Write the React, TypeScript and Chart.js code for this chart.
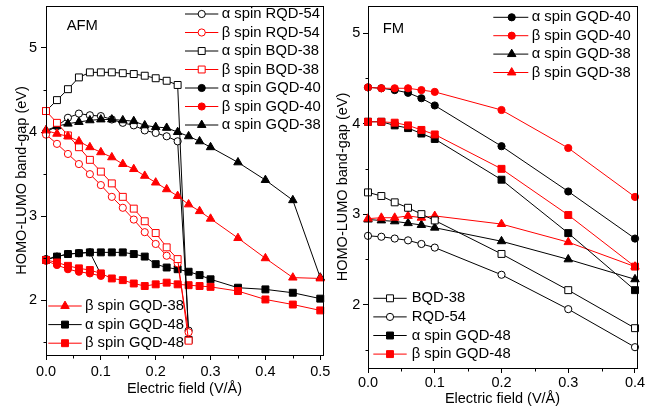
import React, { useEffect, useRef } from 'react';
import { Chart, registerables } from 'chart.js';

Chart.register(...registerables);

const FONT = '"Liberation Sans", Arial, Helvetica, sans-serif';
const RED = '#ff0000';
const BLACK = '#000000';

// ---------------- AFM panel data ----------------
const afmField = [0, 0.02, 0.04, 0.06, 0.08, 0.1, 0.12, 0.14, 0.16, 0.18, 0.2, 0.22, 0.24, 0.26, 0.28, 0.3, 0.35, 0.4, 0.45, 0.5];
const afmAlphaRQD54 = [4.0, 4.07, 4.17, 4.22, 4.2, 4.19, 4.15, 4.11, 4.08, 4.02, 3.99, 3.95, 3.89, 1.64];
const afmBetaRQD54 = [3.97, 3.86, 3.74, 3.62, 3.5, 3.37, 3.23, 3.1, 2.96, 2.81, 2.67, 2.53, 2.44, 1.62];
const afmAlphaBQD38 = [4.25, 4.38, 4.51, 4.65, 4.71, 4.71, 4.71, 4.7, 4.69, 4.67, 4.64, 4.61, 4.56, 1.53];
const afmBetaBQD38 = [4.25, 4.11, 3.96, 3.82, 3.67, 3.53, 3.39, 3.23, 3.09, 2.94, 2.8, 2.63, 2.49, 1.52];
const afmAlphaGQD40 = [2.49, 2.52, 2.55, 2.56, 2.57, 2.31];
const afmBetaGQD40 = [2.47, 2.42, 2.37, 2.34, 2.32, 2.29];
const afmAlphaGQD38 = [4.02, 4.07, 4.1, 4.12, 4.14, 4.15, 4.15, 4.14, 4.13, 4.08, 4.06, 4.05, 4.0, 3.95, 3.89, 3.82, 3.64, 3.43, 3.19, 2.27];
const afmBetaGQD38 = [4.02, 3.98, 3.95, 3.89, 3.82, 3.76, 3.7, 3.62, 3.56, 3.48, 3.4, 3.32, 3.24, 3.14, 3.06, 2.97, 2.74, 2.5, 2.27, 2.26];
const afmAlphaGQD48 = [2.48, 2.52, 2.55, 2.56, 2.57, 2.57, 2.57, 2.57, 2.55, 2.52, 2.43, 2.39, 2.37, 2.34, 2.3, 2.25, 2.15, 2.13, 2.09, 2.02];
const afmBetaGQD48 = [2.48, 2.45, 2.41, 2.38, 2.36, 2.32, 2.26, 2.24, 2.2, 2.17, 2.19, 2.21, 2.19, 2.18, 2.17, 2.16, 2.11, 2.01, 1.95, 1.88];

// ---------------- FM panel data ----------------
const fmField = [0, 0.02, 0.04, 0.06, 0.08, 0.1, 0.2, 0.3, 0.4];
const fmAlphaGQD40 = [4.4, 4.39, 4.37, 4.34, 4.28, 4.2, 3.75, 3.25, 2.73];
const fmBetaGQD40 = [4.4, 4.39, 4.39, 4.39, 4.37, 4.35, 4.15, 3.73, 3.19];
const fmAlphaGQD38 = [2.94, 2.93, 2.92, 2.9, 2.88, 2.85, 2.7, 2.5, 2.28];
const fmBetaGQD38 = [2.95, 2.96, 2.96, 2.98, 2.96, 2.98, 2.89, 2.69, 2.42];
const fmBQD38 = [3.24, 3.2, 3.13, 3.07, 3.0, 2.93, 2.56, 2.16, 1.74];
const fmRQD54 = [2.76, 2.75, 2.73, 2.71, 2.67, 2.63, 2.33, 1.95, 1.53];
const fmAlphaGQD48 = [4.02, 4.02, 3.98, 3.95, 3.89, 3.83, 3.38, 2.79, 2.16];
const fmBetaGQD48 = [4.02, 4.02, 4.01, 3.98, 3.93, 3.88, 3.5, 2.99, 2.42];

// ---------------- ticks ----------------
const afmXTicks = [0, 0.1, 0.2, 0.3, 0.4, 0.5];
const afmXMinor = [0.05, 0.15, 0.25, 0.35, 0.45];
const fmXTicks = [0, 0.1, 0.2, 0.3, 0.4];
const fmXMinor = [0.05, 0.15, 0.25, 0.35];
const yTicks = [2, 3, 4, 5];
const yMinor = [1.5, 2.5, 3.5, 4.5];

type Marker = 'circle' | 'rect' | 'triangle';
type SeriesDef = { label: string; ys: number[]; color: string; marker: Marker; filled: boolean };

const markerRadius: Record<Marker, number> = { circle: 3.6, rect: 4.9, triangle: 4.9 };

// bottom-to-top drawing order
const afmSeries: SeriesDef[] = [
  { label: 'α spin GQD-40', ys: afmAlphaGQD40, color: BLACK, marker: 'circle', filled: true },
  { label: 'β spin GQD-40', ys: afmBetaGQD40, color: RED, marker: 'circle', filled: true },
  { label: 'α spin GQD-48', ys: afmAlphaGQD48, color: BLACK, marker: 'rect', filled: true },
  { label: 'β spin GQD-48', ys: afmBetaGQD48, color: RED, marker: 'rect', filled: true },
  { label: 'α spin RQD-54', ys: afmAlphaRQD54, color: BLACK, marker: 'circle', filled: false },
  { label: 'α spin BQD-38', ys: afmAlphaBQD38, color: BLACK, marker: 'rect', filled: false },
  { label: 'α spin GQD-38', ys: afmAlphaGQD38, color: BLACK, marker: 'triangle', filled: true },
  { label: 'β spin RQD-54', ys: afmBetaRQD54, color: RED, marker: 'circle', filled: false },
  { label: 'β spin BQD-38', ys: afmBetaBQD38, color: RED, marker: 'rect', filled: false },
  { label: 'β spin GQD-38', ys: afmBetaGQD38, color: RED, marker: 'triangle', filled: true },
];

const fmSeries: SeriesDef[] = [
  { label: 'α spin GQD-38', ys: fmAlphaGQD38, color: BLACK, marker: 'triangle', filled: true },
  { label: 'β spin GQD-38', ys: fmBetaGQD38, color: RED, marker: 'triangle', filled: true },
  { label: 'BQD-38', ys: fmBQD38, color: BLACK, marker: 'rect', filled: false },
  { label: 'RQD-54', ys: fmRQD54, color: BLACK, marker: 'circle', filled: false },
  { label: 'α spin GQD-48', ys: fmAlphaGQD48, color: BLACK, marker: 'rect', filled: true },
  { label: 'α spin GQD-40', ys: fmAlphaGQD40, color: BLACK, marker: 'circle', filled: true },
  { label: 'β spin GQD-48', ys: fmBetaGQD48, color: RED, marker: 'rect', filled: true },
  { label: 'β spin GQD-40', ys: fmBetaGQD40, color: RED, marker: 'circle', filled: true },
];

type LegendCfg = { x0: number; x1: number; xm: number; xt: number; y0: number; dy: number; labels: string[] };

type PanelCfg = {
  left: number;
  width: number;
  height: number;
  xs: number[];
  series: SeriesDef[];
  xMax: number;
  yMin: number;
  yMax: number;
  xTicks: number[];
  xMinor: number[];
  padding: { left: number; right: number; top: number; bottom: number };
  yAxisWidth: number;
  xAxisHeight: number;
  yTickPad: number;
  xTickPad: number;
  yTitlePad: number;
  xTitlePad: number;
  tag: { text: string; x: number; y: number };
  legends: LegendCfg[];
};

const FS = 14.5;
const LEG_FS = 14.8;

const afmPanel: PanelCfg = {
  left: 0,
  width: 330,
  height: 413,
  xs: afmField,
  series: afmSeries,
  xMax: 0.505,
  yMin: 1.35,
  yMax: 5.5,
  xTicks: afmXTicks,
  xMinor: afmXMinor,
  padding: { left: 0, right: 7, top: 4, bottom: 0 },
  yAxisWidth: 46,
  xAxisHeight: 58,
  yTickPad: 4,
  xTickPad: 3,
  yTitlePad: 13,
  xTitlePad: 15,
  tag: { text: 'AFM', x: 66.7, y: 26 },
  legends: [
    {
      x0: 185, x1: 218.3, xm: 201.7, xt: 221.7, y0: 14, dy: 18.5,
      labels: ['α spin RQD-54', 'β spin RQD-54', 'α spin BQD-38', 'β spin BQD-38', 'α spin GQD-40', 'β spin GQD-40', 'α spin GQD-38'],
    },
    {
      x0: 48.3, x1: 81.7, xm: 65, xt: 85, y0: 306, dy: 18.6,
      labels: ['β spin GQD-38', 'α spin GQD-48', 'β spin GQD-48'],
    },
  ],
};

const fmPanel: PanelCfg = {
  left: 330,
  width: 334,
  height: 413,
  xs: fmField,
  series: fmSeries,
  xMax: 0.403,
  yMin: 1.3,
  yMax: 5.3,
  xTicks: fmXTicks,
  xMinor: fmXMinor,
  padding: { left: 0, right: 27, top: 3, bottom: 0 },
  yAxisWidth: 38,
  xAxisHeight: 45,
  yTickPad: 2.6,
  xTickPad: 1,
  yTitlePad: 4.3,
  xTitlePad: 5.3,
  tag: { text: 'FM', x: 52.7, y: 28.7 },
  legends: [
    {
      x0: 163.3, x1: 198.3, xm: 181.7, xt: 201.7, y0: 17.3, dy: 18.4,
      labels: ['α spin GQD-40', 'β spin GQD-40', 'α spin GQD-38', 'β spin GQD-38'],
    },
    {
      x0: 43.3, x1: 76.7, xm: 60, xt: 81.7, y0: 298.3, dy: 18.6,
      labels: ['BQD-38', 'RQD-54', 'α spin GQD-48', 'β spin GQD-48'],
    },
  ],
};

function drawMarker(ctx: CanvasRenderingContext2D, m: Marker, x: number, y: number, fill: string, stroke: string) {
  const r = markerRadius[m];
  ctx.beginPath();
  if (m === 'circle') {
    ctx.arc(x, y, r, 0, Math.PI * 2);
    ctx.closePath();
  } else if (m === 'rect') {
    const s = Math.SQRT1_2 * r;
    ctx.rect(x - s, y - s, 2 * s, 2 * s);
  } else {
    ctx.moveTo(x, y - r);
    ctx.lineTo(x + Math.sin((2 * Math.PI) / 3) * r, y - Math.cos((2 * Math.PI) / 3) * r);
    ctx.lineTo(x + Math.sin((4 * Math.PI) / 3) * r, y - Math.cos((4 * Math.PI) / 3) * r);
    ctx.closePath();
  }
  ctx.fillStyle = fill;
  ctx.fill();
  ctx.lineWidth = 1;
  ctx.strokeStyle = stroke;
  ctx.stroke();
}

function makeDecor(cfg: PanelCfg) {
  const byLabel: Record<string, SeriesDef> = {};
  cfg.series.forEach((s) => (byLabel[s.label] = s));
  return {
    id: 'decor',
    afterDraw(chart: any) {
      const { ctx, chartArea: a, scales } = chart;
      ctx.save();
      // frame
      const L = Math.round(a.left) + 0.5;
      const T = Math.round(a.top) + 0.5;
      const R = Math.round(a.right) + 0.5;
      const B = Math.round(a.bottom) + 0.5;
      ctx.strokeStyle = '#000';
      ctx.lineWidth = 1;
      ctx.strokeRect(L, T, R - L, B - T);
      // minor ticks
      ctx.beginPath();
      cfg.xMinor.forEach((v) => {
        const px = Math.round(scales.x.getPixelForValue(v)) + 0.5;
        ctx.moveTo(px, B);
        ctx.lineTo(px, B + 3);
      });
      yMinor.forEach((v) => {
        if (v < cfg.yMin || v > cfg.yMax) return;
        const py = Math.round(scales.y.getPixelForValue(v)) + 0.5;
        ctx.moveTo(L, py);
        ctx.lineTo(L - 3, py);
      });
      ctx.stroke();
      // panel tag
      ctx.fillStyle = '#000';
      ctx.font = `${LEG_FS}px ${FONT}`;
      ctx.textBaseline = 'middle';
      ctx.textAlign = 'left';
      ctx.fillText(cfg.tag.text, cfg.tag.x, cfg.tag.y);
      // legends
      cfg.legends.forEach((lg) => {
        lg.labels.forEach((lab, i) => {
          const s = byLabel[lab];
          if (!s) return;
          const y = lg.y0 + i * lg.dy;
          ctx.beginPath();
          ctx.strokeStyle = s.color;
          ctx.lineWidth = 1;
          ctx.moveTo(lg.x0, y);
          ctx.lineTo(lg.x1, y);
          ctx.stroke();
          drawMarker(ctx, s.marker, lg.xm, y, s.filled ? s.color : '#ffffff', s.color);
          ctx.fillStyle = '#000';
          ctx.font = `${LEG_FS}px ${FONT}`;
          ctx.textBaseline = 'middle';
          ctx.textAlign = 'left';
          ctx.fillText(lab, lg.xt, y);
        });
      });
      ctx.restore();
    },
  };
}

function buildConfig(cfg: PanelCfg): any {
  const datasets = cfg.series
    .map((s) => ({
      label: s.label,
      data: s.ys.map((y, i) => ({ x: cfg.xs[i], y })),
      borderColor: s.color,
      backgroundColor: s.color,
      borderWidth: 1,
      pointStyle: s.marker,
      pointRadius: markerRadius[s.marker],
      pointHoverRadius: markerRadius[s.marker],
      pointBackgroundColor: s.filled ? s.color : '#ffffff',
      pointBorderColor: s.color,
      pointBorderWidth: 1,
      tension: 0,
      fill: false,
      clip: false,
    }))
    .reverse();
  const font = { family: FONT, size: FS };
  return {
    type: 'line',
    data: { datasets },
    options: {
      animation: false,
      responsive: false,
      events: [],
      layout: { padding: cfg.padding },
      plugins: { legend: { display: false }, tooltip: { enabled: false } },
      scales: {
        x: {
          type: 'linear',
          min: 0,
          max: cfg.xMax,
          afterBuildTicks: (s: any) => {
            s.ticks = cfg.xTicks.map((v) => ({ value: v }));
          },
          afterFit: (s: any) => {
            s.height = cfg.xAxisHeight;
            s.paddingLeft = 0;
            s.paddingRight = 0;
          },
          ticks: {
            callback: (v: any) => Number(v).toFixed(1),
            font,
            color: '#000',
            padding: cfg.xTickPad,
            maxRotation: 0,
            autoSkip: false,
          },
          grid: { drawOnChartArea: false, drawTicks: true, tickLength: 5, color: '#000', tickColor: '#000', lineWidth: 1 },
          border: { display: false },
          title: {
            display: true,
            text: 'Electric field (V/Å)',
            font,
            color: '#000',
            padding: { top: cfg.xTitlePad, bottom: cfg.xTitlePad },
          },
        },
        y: {
          type: 'linear',
          min: cfg.yMin,
          max: cfg.yMax,
          afterBuildTicks: (s: any) => {
            s.ticks = yTicks.map((v) => ({ value: v }));
          },
          afterFit: (s: any) => {
            s.width = cfg.yAxisWidth;
            s.paddingTop = 0;
            s.paddingBottom = 0;
          },
          ticks: {
            callback: (v: any) => String(v),
            font,
            color: '#000',
            padding: cfg.yTickPad,
            autoSkip: false,
          },
          grid: { drawOnChartArea: false, drawTicks: true, tickLength: 5, color: '#000', tickColor: '#000', lineWidth: 1 },
          border: { display: false },
          title: {
            display: true,
            text: 'HOMO-LUMO band-gap (eV)',
            font,
            color: '#000',
            padding: { top: cfg.yTitlePad, bottom: cfg.yTitlePad },
          },
        },
      },
    },
    plugins: [makeDecor(cfg)],
  };
}

function Panel({ cfg }: { cfg: PanelCfg }) {
  const ref = useRef<HTMLCanvasElement | null>(null);
  useEffect(() => {
    if (!ref.current) return;
    const chart = new Chart(ref.current, buildConfig(cfg));
    return () => chart.destroy();
  }, [cfg]);
  return (
    <canvas
      ref={ref}
      width={cfg.width}
      height={cfg.height}
      style={{ position: 'absolute', left: cfg.left, top: 0, width: cfg.width, height: cfg.height }}
    />
  );
}

export default function App() {
  return (
    <div style={{ position: 'fixed', left: 0, top: 0, width: 664, height: 413, background: '#fff', overflow: 'hidden' }}>
      <Panel cfg={afmPanel} />
      <Panel cfg={fmPanel} />
    </div>
  );
}
